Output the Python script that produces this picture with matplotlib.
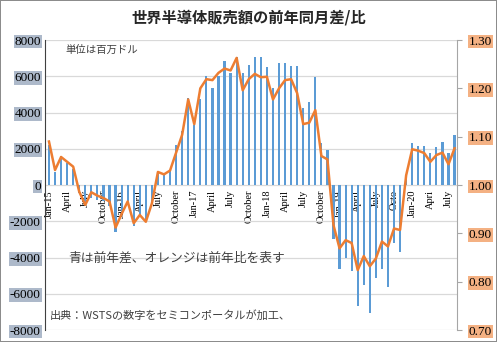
import numpy as np
import matplotlib
matplotlib.use("Agg")
import matplotlib.pyplot as plt

# monthly data Jan-15 .. Aug-20
diff = [
    2200, 730, 1600, 1200, 900, -450, -1100, -700, -800, -900, -1150, -2600,
    -1600, -900, -2250, -1750, -2050, -1000, 740, 610, 830, 2200, 3000, 4800,
    3300, 4750, 6000, 5350, 6040, 6850, 6170, 7050, 6170, 6630, 7090, 7040,
    6530, 5330, 6710, 6750, 6570, 6570, 4230, 4600, 5940, 2300, 1930, -2980,
    -4650, -4000, -4720, -6670, -5520, -7050, -5150, -4620, -5640, -3200, -3700, 350,
    2300, 2150, 2150, 1750, 2080, 2390, 1750, 2760,
]
ratio = [
    1.090, 1.031, 1.058, 1.048, 1.038, 0.986, 0.959, 0.985, 0.978, 0.973, 0.966, 0.912,
    0.940, 0.966, 0.921, 0.938, 0.924, 0.962, 1.027, 1.022, 1.030, 1.067, 1.104, 1.177,
    1.126, 1.200, 1.219, 1.217, 1.232, 1.241, 1.237, 1.263, 1.196, 1.219, 1.230, 1.223,
    1.224, 1.177, 1.200, 1.217, 1.219, 1.190, 1.126, 1.129, 1.155, 1.060, 1.053, 0.917,
    0.869, 0.886, 0.880, 0.824, 0.853, 0.832, 0.848, 0.883, 0.873, 0.910, 0.907, 1.020,
    1.074, 1.071, 1.066, 1.048, 1.062, 1.067, 1.043, 1.076,
]
xlabels = ["Jan-15", "April", "July", "October",
           "Jan-16", "April", "July", "October",
           "Jan-17", "April", "July", "October",
           "Jan-18", "April", "July", "October",
           "Jan-19", "April", "July", "Octo",
           "Jan-20", "Apri", "July"]
left_ticks = [-8000, -6000, -4000, -2000, 0, 2000, 4000, 6000, 8000]
right_ticks = [0.70, 0.80, 0.90, 1.00, 1.10, 1.20, 1.30]

cjk = ["Noto Sans CJK JP", "DejaVu Sans"]
serif = "Liberation Serif"

fig = plt.figure(figsize=(4.97, 3.42), dpi=100)
fig.patch.set_edgecolor("#8c8c8c")
fig.patch.set_linewidth(1.2)
ax = fig.add_axes([0.0905, 0.035, 0.829, 0.848])

x = np.arange(len(diff))
ax.bar(x, diff, width=0.36, color="#5b9bd5", zorder=2)
ax.set_xlim(-0.66, 67.4)
ax.set_ylim(-8000, 8000)
ax.set_yticks(left_ticks)
ax.set_yticklabels([str(v) for v in left_ticks], fontfamily=serif, fontsize=9.5)
ax.grid(axis="y", color="#d9d9d9", linewidth=0.9, zorder=0)
ax.tick_params(axis="y", length=0, pad=3)
for t in ax.get_yticklabels():
    t.set_bbox(dict(facecolor="#adb9ca", edgecolor="none", pad=0.6))

ax.spines["bottom"].set_position(("data", 0))
ax.spines["bottom"].set_visible(False)
ax.spines["top"].set_visible(False)
ax.spines["right"].set_visible(False)
ax.spines["left"].set_color("#404040")
ax.set_xticks(x[::3])
ax.set_xticklabels(xlabels, rotation=90, fontfamily=serif, fontsize=7.5)
ax.tick_params(axis="x", length=0, pad=3.5)

ax2 = ax.twinx()
ax2.plot(x, ratio, color="#ed7d31", linewidth=1.8, zorder=3)
ax2.set_ylim(0.7, 1.3)
ax2.set_yticks(right_ticks)
ax2.set_yticklabels(["%.2f" % v for v in right_ticks], fontfamily=serif, fontsize=9.5)
ax2.tick_params(axis="y", length=3.5, color="#a6a6a6", pad=5)
for t in ax2.get_yticklabels():
    t.set_bbox(dict(facecolor="#f4b183", edgecolor="none", pad=0.6))
for s in ["top", "left", "bottom"]:
    ax2.spines[s].set_visible(False)
ax2.spines["right"].set_color("#a6a6a6")

fig.text(0.5, 0.95, "世界半導体販売額の前年同月差/比", ha="center", va="center",
         fontsize=11, fontweight="bold", family=cjk, color="#262626")
ax.text(0.049, 0.966, "単位は百万ドル", transform=ax.transAxes, fontsize=7.5,
        family=cjk, color="#404040", va="center")
ax.text(0.056, 0.248, "青は前年差、オレンジは前年比を表す", transform=ax.transAxes,
        fontsize=9.2, family=cjk, color="#404040", va="center")
ax.text(0.012, 0.052, "出典：WSTSの数字をセミコンポータルが加工、", transform=ax.transAxes,
        fontsize=8, family=cjk, color="#404040", va="center")

fig.savefig("out.png", dpi=100)
